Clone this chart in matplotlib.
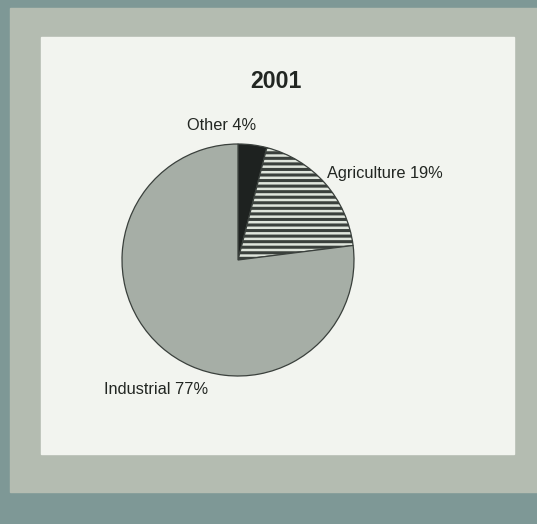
import matplotlib.pyplot as plt
from matplotlib.patches import Rectangle

# data
labels = ['Other', 'Agriculture', 'Industrial']
shares = [4, 19, 77]
year = '2001'

face_colors = ['#1e2220', '#dfe5dc', '#a6aea6']
hatches = [None, '---', None]

plt.rcParams['font.family'] = ['Liberation Sans', 'DejaVu Sans']
plt.rcParams['hatch.linewidth'] = 2.2
plt.rcParams['hatch.color'] = '#343a36'

W, H = 537, 524
fig = plt.figure(figsize=(W / 100, H / 100), dpi=100)
fig.patch.set_facecolor('#7e9896')

def px_rect(x0, y0, x1, y1, color):
    # rectangle given in pixel coords (origin top left)
    fig.patches.append(Rectangle((x0 / W, 1 - y1 / H), (x1 - x0) / W, (y1 - y0) / H,
                                 transform=fig.transFigure, color=color, zorder=-10))

px_rect(10, 8, 537, 492, '#b4bcb1')
px_rect(41, 37, 514, 454, '#f2f4ef')

# pie axes: centre (238, 260) px, radius ~116 px
cx, cy, r = 238, 260, 116
ax = fig.add_axes([(cx - r) / W, 1 - (cy + r) / H, 2 * r / W, 2 * r / H])
ax.set_zorder(5)
wedges, _ = ax.pie(shares, colors=face_colors, startangle=90, counterclock=False,
                   wedgeprops=dict(edgecolor='#3a403c', linewidth=0.9))
for w, h in zip(wedges, hatches):
    if h:
        w.set_hatch(h)
ax.set_xlim(-1, 1)
ax.set_ylim(-1, 1)
ax.set_aspect('equal')
ax.axis('off')

txt = dict(color='#222622', fontsize=11.8)
fig.text(276 / W, 1 - 81 / H, year, ha='center', va='center', fontsize=16.7,
         fontweight='bold', color='#222622')
fig.text(222 / W, 1 - 126 / H, f'{labels[0]} {shares[0]}%', ha='center', va='center', **txt)
fig.text(327 / W, 1 - 173 / H, f'{labels[1]} {shares[1]}%', ha='left', va='center', **txt)
fig.text(104 / W, 1 - 390 / H, f'{labels[2]} {shares[2]}%', ha='left', va='center', **txt)

fig.savefig('out.png', dpi=100, facecolor=fig.get_facecolor())
